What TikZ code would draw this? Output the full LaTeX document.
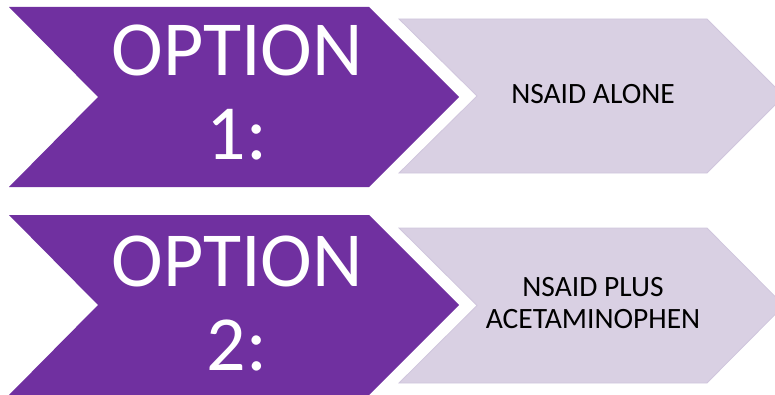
\documentclass[tikz,border=0pt]{standalone}
\usepackage{fontspec}
\setmainfont{Carlito}
\definecolor{optpurple}{RGB}{112,48,160}
\definecolor{optlilac}{RGB}{217,208,227}
\definecolor{optlilacedge}{RGB}{208,198,221}
\begin{document}
\begin{tikzpicture}[x=1pt,y=1pt,
  optchev/.style={fill=optpurple,draw=none},
  optpent/.style={fill=optlilac,draw=optlilacedge,line width=0.8pt},
  bigtxt/.style={text=white,align=center,inner sep=0pt,
    font=\fontsize{78}{84}\selectfont},
  smalltxt/.style={text=black,align=center,inner sep=0pt,
    font=\fontsize{29.5}{32}\selectfont}]
\useasboundingbox (0,0) rectangle (775,394);
% first row
\fill[optchev] (9,387) -- (369,387) -- (459,297) -- (369,207) -- (9,207) -- (98,297) -- cycle;
\filldraw[optpent] (399,375) -- (707,375) -- (784,298) -- (707,221) -- (399,221) -- (477,298) -- cycle;
\node[bigtxt,anchor=base] (opt1) at (237,234) {OPTION\\1:};
\node[smalltxt,anchor=base] (opt1text) at (593,290) {NSAID ALONE};
% second row
\fill[optchev] (9,179) -- (369,179) -- (459,89) -- (369,-1) -- (9,-1) -- (98,89) -- cycle;
\filldraw[optpent] (399,166) -- (707,166) -- (784,88.5) -- (707,11) -- (399,11) -- (477,88.5) -- cycle;
\node[bigtxt,anchor=base] (opt2) at (237,24) {OPTION\\2:};
\node[smalltxt,anchor=base] (opt2text) at (593,66) {NSAID PLUS\\ACETAMINOPHEN};
\end{tikzpicture}
\end{document}
